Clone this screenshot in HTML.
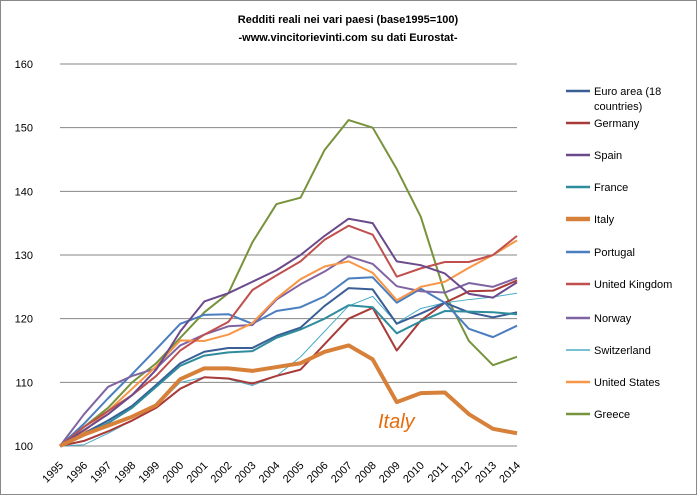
<!DOCTYPE html>
<html><head><meta charset="utf-8"><style>
body{margin:0;background:#fff}
svg{display:block;font-family:"Liberation Sans",sans-serif}
</style></head><body>
<svg id="c" width="697" height="495">
<rect x="0.5" y="0.5" width="696" height="494" fill="#fff" stroke="#888"/>
<text x="348" y="23" text-anchor="middle" font-size="11" font-weight="bold">Redditi reali  nei vari paesi (base1995=100)</text>
<text x="348" y="41" text-anchor="middle" font-size="11" font-weight="bold">-www.vincitorievinti.com su dati Eurostat-</text>
<g id="grid"></g><g id="series"></g><g id="legend"></g>
<text x="378" y="428" font-size="20" font-style="italic" fill="#e46c0a">Italy</text>
</svg>
<script>
const years=[1995,1996,1997,1998,1999,2000,2001,2002,2003,2004,2005,2006,2007,2008,2009,2010,2011,2012,2013,2014];
const yTicks=[100,110,120,130,140,150,160];
const names=["Euro area (18|countries)","Germany","Spain","France","Italy","Portugal","United Kingdom","Norway","Switzerland","United States","Greece"];
const colors=["#3a5f96","#a83a38","#6b4a8c","#2e8c9c","#d7803a","#4a7ebf","#c0504d","#8064a2","#4bacc6","#f79646","#77933c"];
const widths=[2,2,2,2,4,2,2,2,1,2,2];
const euro=[100,102,104,106.3,109.6,113,114.8,115.4,115.4,117.3,118.6,122,124.8,124.6,119.2,120.8,122.5,121,120.2,121];
const germany=[100,100.8,102.3,104,106,109,110.8,110.6,109.8,111,112,116,120,121.7,115,119.7,122.5,124.3,124.4,126];
const spain=[100,102.5,105,108,112,118,122.7,124,125.8,127.6,130,133,135.7,135,129,128.4,127.1,123.9,123.3,125.7];
const france=[100,101.8,103.6,106,109.3,112.6,114.2,114.7,114.9,117,118.3,120,122.1,121.8,117.7,119.6,121.2,121.1,121,120.7];
const italy=[100,101.8,103.2,104.6,106.4,110.5,112.2,112.2,111.8,112.4,113,114.8,115.8,113.6,106.9,108.3,108.4,105,102.7,102];
const portugal=[100,103.5,107.5,111.3,115.2,119.2,120.6,120.7,119.2,121.2,121.8,123.5,126.3,126.5,122.5,124.7,122.5,118.4,117.1,118.9];
const uk=[100,103,105.5,108,111,115,117.5,119.5,124.5,126.8,129,132.4,134.6,133.2,126.6,127.9,128.9,128.9,130,133];
const norway=[100,105,109.3,111,112.2,115.8,117.5,118.8,119,123,125.4,127.4,129.8,128.6,125.1,124.3,124.1,125.6,125,126.4];
const swiss=[100,100.2,102,104,106.3,110,110.8,110.5,109.5,111,114,118,122,123.5,119.3,121.6,122.5,123,123.4,124];
const usa=[100,102.3,105.5,109,112.5,116.6,116.5,117.5,119.3,123.2,126.2,128.2,129,127.2,122.9,125,125.8,128,130,132.3];
const greece=[100,103,106,110,113,117,121,124,132,138,139,146.5,151.2,150,143.5,136,124,116.5,112.7,114];
const seriesData=[euro,germany,spain,france,italy,portugal,uk,norway,swiss,usa,greece];
const ns="http://www.w3.org/2000/svg";
const X=y=>60+(y-1995)*(517-60)/19;
const Y=v=>446-(v-100)*(446-64)/60;
function mk(t,a,p){const e=document.createElementNS(ns,t);for(const k in a)e.setAttribute(k,a[k]);p.appendChild(e);return e;}
const g=document.getElementById('grid');
yTicks.forEach(t=>{
 const l=mk('line',{x1:60,x2:517,y1:Y(t),y2:Y(t),stroke:'#868686','stroke-width':1},g);
 
 
 const tx=mk('text',{x:33,y:Y(t)+4,'text-anchor':'end','font-size':11},g);tx.textContent=t;
 
 
});
years.forEach(yr=>{
 const tx=mk('text',{x:X(yr)+4,y:466,'text-anchor':'end','font-size':11,transform:`rotate(-45 ${X(yr)+4} 466)`},g);tx.textContent=yr;
 
 
});
const sg=document.getElementById('series'),lg=document.getElementById('legend');
const order=[10,8,1,0,3,5,7,9,6,2,4];
order.forEach(i=>{
 const p=mk('polyline',{points:seriesData[i].map((v,j)=>X(years[j])+','+Y(v)).join(' '),fill:'none',stroke:colors[i],'stroke-width':widths[i],'stroke-linejoin':'round'},sg);
 
 
});
const ly=[91,123,155,187,219,252,284,318,350,382,414];
names.forEach((n,i)=>{
 const l=mk('line',{x1:566,x2:590,y1:ly[i],y2:ly[i],stroke:colors[i],'stroke-width':widths[i]+0.5},lg);
 
 
 const parts=n.split('|');
 parts.forEach((s,k)=>{const t=mk('text',{x:594,y:ly[i]+4+k*15,'font-size':11},lg);t.textContent=s;
 
 });
});
</script>
</body></html>
